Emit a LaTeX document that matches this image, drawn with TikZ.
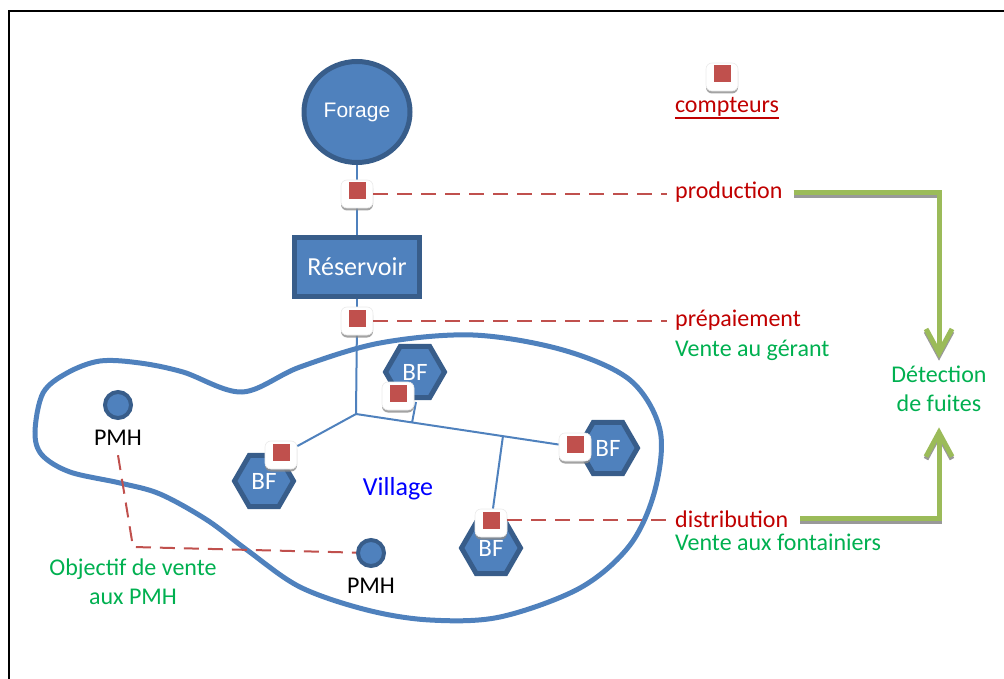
\documentclass[tikz,border=0pt]{standalone}
\usepackage{fontspec}
\setmainfont{Carlito}
\newfontfamily\arialf{Liberation Sans}
\usetikzlibrary{shapes.geometric,shadows,arrows.meta,calc}
\definecolor{bfill}{HTML}{4F81BD}
\definecolor{bdark}{HTML}{385D8A}
\definecolor{mred}{HTML}{C0504D}
\definecolor{tred}{HTML}{C00000}
\definecolor{tgreen}{HTML}{00B050}
\definecolor{agreen}{HTML}{9BBB59}
\definecolor{vblue}{HTML}{0000FF}
\pgfdeclarelayer{bg}
\pgfsetlayers{bg,main}
\tikzset{
  txt/.style={inner sep=0pt, font=\fontsize{24}{29}\selectfont},
  bigtxt/.style={inner sep=0pt, font=\fontsize{26}{31}\selectfont},
  pipe/.style={draw=bfill, line width=2pt},
  blob/.style={draw=bfill, line width=5pt},
  forage/.style={ellipse, draw=bdark, fill=bfill, line width=5pt, minimum width=106pt, minimum height=101pt, inner sep=0pt, text=white, font=\arialf\fontsize{21}{25}\selectfont},
  reservoir/.style={rectangle, draw=bdark, fill=bfill, line width=5pt, minimum width=125pt, minimum height=59pt, inner sep=0pt, text=white, font=\fontsize{26}{31}\selectfont},
  hexa/.style={regular polygon, regular polygon sides=6, draw=bdark, fill=bfill, line width=5pt, minimum size=59pt, inner sep=0pt, text=white, font=\fontsize{25}{30}\selectfont},
  pmh/.style={circle, draw=bdark, fill=bfill, line width=4pt, minimum size=26pt, inner sep=0pt},
  meterbox/.style={rectangle, rounded corners=6pt, fill=white, draw=black!8, line width=0.6pt, minimum width=32pt, minimum height=28pt, inner sep=0pt, drop shadow={shadow xshift=0pt, shadow yshift=-2.5pt, fill=black!45, opacity=0.8}},
  metersq/.style={rectangle, fill=mred, minimum size=17pt, inner sep=0pt},
  reddash/.style={draw=mred, line width=2pt, dash pattern=on 15pt off 9pt},
  garrow/.style={draw=agreen, line width=5pt, -{Straight Barb[length=24pt,width=26pt]}},
  gshadow/.style={draw=black!40, line width=5pt, -{Straight Barb[length=24pt,width=26pt]}, transform canvas={yshift=-2.5pt}},
}
\begin{document}
\begin{tikzpicture}[x=1pt,y=-1pt]
\useasboundingbox (0,0) rectangle (1004,679);
\draw[line width=2pt] (9,679) -- (9,11) -- (1004,11);

% main shapes
\node[forage] (forage) at (357,112) {Forage};
\node[reservoir] (res) at (357,267) {Réservoir};
\coordinate (j) at (356,414);

\node[hexa] (bfT) at (415,372) {\raisebox{-2pt}{BF}};
\node[hexa] (bfL) at (264,481) {BF};
\node[hexa] (bfR) at (608,448) {BF};
\node[hexa] (bfB) at (491,548) {BF};

\node[pmh] (p1) at (118,405) {};
\node[pmh] (p2) at (371,553) {};

% meters
\node[meterbox] (m1b) at (357,194) {};
\node[metersq] (m1s) at (357,191) {};
\node[meterbox] (m2b) at (357,321) {};
\node[metersq] (m2s) at (357,318) {};
\node[meterbox] (mTb) at (398,396) {};
\node[metersq] (mTs) at (398,393) {};
\node[meterbox] (mLb) at (281,455) {};
\node[metersq] (mLs) at (281,452) {};
\node[meterbox] (mRb) at (575,447) {};
\node[metersq] (mRs) at (575,444) {};
\node[meterbox] (mBb) at (491,523) {};
\node[metersq] (mBs) at (491,520) {};
\node[meterbox] (mKb) at (722,77) {};
\node[metersq] (mKs) at (722,74) {};

% texts
\node[txt, text=tred, anchor=base west] (prod) at (675,199) {production};
\node[txt, text=tred, anchor=base west] (prep) at (675,326) {prépaiement};
\node[txt, text=tgreen, anchor=base west] (vg) at (675,356) {Vente au gérant};
\node[txt, text=tred, anchor=base west] (dist) at (675,527) {distribution};
\node[txt, text=tgreen, anchor=base west] (vf) at (675,550) {Vente aux fontainiers};
\node[txt, text=tgreen, anchor=base] (det1) at (939,382) {Détection};
\node[txt, text=tgreen, anchor=base] (det2) at (939,411) {de fuites};
\node[txt, text=tred, anchor=base] (cpt) at (727,113) {compteurs};
\node[txt, anchor=base] (pmh1l) at (118,445) {PMH};
\node[txt, anchor=base] (pmh2l) at (371,593) {PMH};
\node[txt, text=tgreen, anchor=base] (obj1) at (133,575) {Objectif de vente};
\node[txt, text=tgreen, anchor=base] (obj2) at (133,604) {aux PMH};
\node[bigtxt, text=vblue, anchor=base] (vil) at (398,495) {Village};

\draw[tred, line width=2pt] ([yshift=-5pt]cpt.base west) -- ([yshift=-5pt]cpt.base east);

\begin{pgfonlayer}{bg}
\draw[blob] plot[smooth cycle, tension=0.55] coordinates {
 (35,432) (43,393) (67,373) (100,361) (140,363) (183,372) (242,392)
 (300,367) (380,343) (473,335) (563,350) (630,380) (660,430) (655,490)
 (630,545) (580,588) (500,617) (430,620) (367,610) (300,587) (247,550)
 (207,520) (160,494) (120,483) (70,472) (42,455)};
\draw[pipe] (forage) -- (m1b);
\draw[pipe] (m1b) -- (res);
\draw[pipe] (res) -- (m2b);
\draw[pipe] (m2b) -- (j);
\draw[pipe] (j) -- (mLb);
\draw[pipe] (j) -- (mRb);
\coordinate (b1) at ($(j)!0.256!(mRb.center)$);
\coordinate (b1top) at (416,402);
\draw[pipe] (b1) -- (b1top);
\coordinate (b2) at ($(j)!0.671!(mRb.center)$);
\draw[pipe] (b2) -- (mBb);
\end{pgfonlayer}

% dashed red
\draw[reddash] (m1b) -- ([xshift=-8pt]prod.west |- m1b);
\draw[reddash] (m2b.east) -- ([xshift=-8pt]prep.west |- m2b);
\draw[reddash] (mBb.east |- mBs) -- ([xshift=-8pt]dist.west |- mBs);
\coordinate (c1) at (133,547);
\draw[reddash] ([yshift=-10pt]pmh1l.south) -- (c1) -- (p2);

% green arrows
\draw[gshadow] ([xshift=11pt]prod.east) -| ([yshift=7pt]det1.north);
\draw[garrow] ([xshift=11pt]prod.east) -| ([yshift=7pt]det1.north);
\draw[gshadow] ([xshift=12pt]dist.east) -| ([yshift=-16pt]det2.south);
\draw[garrow] ([xshift=12pt]dist.east) -| ([yshift=-16pt]det2.south);
\end{tikzpicture}
\end{document}
